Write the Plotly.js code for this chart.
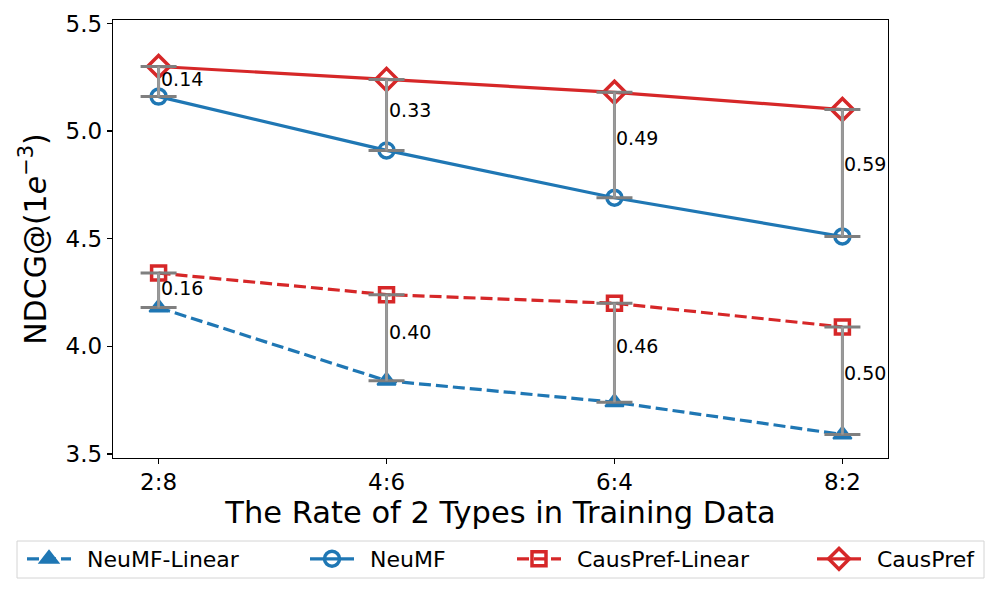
<!DOCTYPE html>
<html>
<head>
<meta charset="utf-8">
<script src="https://cdn.plot.ly/plotly-3.0.1.min.js"></script>
<style>html,body{margin:0;padding:0;background:#fff;}#chart{width:1000px;height:600px;}</style>
</head>
<body>
<div id="chart"></div>
<script>
// ---- data ----
var categories = ['2:8', '4:6', '6:4', '8:2'];
var neumfLinear = [4.18, 3.84, 3.74, 3.59];
var neumf = [5.16, 4.91, 4.69, 4.51];
var causprefLinear = [4.34, 4.24, 4.20, 4.09];
var causpref = [5.30, 5.24, 5.18, 5.10];
var yTicks = [3.5, 4.0, 4.5, 5.0, 5.5];
var seriesNames = ['NeuMF-Linear', 'NeuMF', 'CausPref-Linear', 'CausPref'];

var BLUE = '#1f77b4', RED = '#d62728';
var FONT = 'DejaVu Sans, sans-serif';
var PAD = '\u2002';

function diffs(hi, lo) { return hi.map(function (v, i) { return +(v - lo[i]).toFixed(2); }); }
var gapTop = diffs(causpref, neumf);
var gapBottom = diffs(causprefLinear, neumfLinear);
var zeros = categories.map(function () { return 0; });

var traces = [
  {x: categories, y: neumfLinear, name: PAD + seriesNames[0], mode: 'lines+markers', legend: 'legend',
   line: {color: BLUE, width: 3.2, dash: '12px,5px'},
   marker: {symbol: 'triangle-up', size: 16, color: BLUE, line: {color: BLUE, width: 2}}},
  {x: categories, y: neumf, name: PAD + seriesNames[1], mode: 'lines+markers', legend: 'legend2',
   line: {color: BLUE, width: 3.2},
   marker: {symbol: 'circle-open', size: 15, color: BLUE, line: {color: BLUE, width: 3.5}}},
  {x: categories, y: causprefLinear, name: PAD + seriesNames[2], mode: 'lines+markers', legend: 'legend3',
   line: {color: RED, width: 3.2, dash: '12px,5px'},
   marker: {symbol: 'square-open', size: 14, color: RED, line: {color: RED, width: 3.5}}},
  {x: categories, y: causpref, name: PAD + seriesNames[3], mode: 'lines+markers', legend: 'legend4',
   line: {color: RED, width: 3.2},
   marker: {symbol: 'diamond-open', size: 17, color: RED, line: {color: RED, width: 3.5}}}
];

function gapTrace(lo, gap, color, thick, w) {
  return {x: categories, y: lo, mode: 'markers', showlegend: false, hoverinfo: 'skip',
    marker: {size: 1, opacity: 0},
    error_y: {type: 'data', symmetric: false, array: gap, arrayminus: zeros,
      color: color, thickness: thick, width: w}};
}
traces.push(gapTrace(neumf, gapTop, '#7f7f7f', 3, 18));
traces.push(gapTrace(neumfLinear, gapBottom, '#7f7f7f', 3, 18));
traces.push(gapTrace(neumf, gapTop, '#9a9a9a', 2.5, 0));
traces.push(gapTrace(neumfLinear, gapBottom, '#9a9a9a', 2.5, 0));

var annotations = [];
function addLabels(lo, gap) {
  gap.forEach(function (g, i) {
    annotations.push({x: i, y: lo[i] + 0.57 * g, xref: 'x', yref: 'y', text: g.toFixed(2),
      showarrow: false, xanchor: 'left', yanchor: 'middle', xshift: 0, yshift: 0,
      font: {family: FONT, size: 19, color: '#000'}});
  });
}
addLabels(neumf, gapTop);
addLabels(neumfLinear, gapBottom);

var L = 113, R = 888, T = 20, B = 458;
function px2x(p) { return (p - L) / (R - L); }
function px2y(p) { return (B - p) / (B - T); }
function legendAt(px) {
  return {x: px2x(px), y: px2y(559), xanchor: 'left', yanchor: 'middle', orientation: 'h',
    bgcolor: 'rgba(0,0,0,0)', borderwidth: 0, itemwidth: 44,
    font: {family: FONT, size: 22, color: '#000'}};
}

var layout = {
  width: 1000, height: 600,
  margin: {l: L, r: 1000 - R, t: T, b: 600 - B, pad: 0},
  paper_bgcolor: '#fff', plot_bgcolor: '#fff',
  font: {family: FONT, color: '#000'},
  xaxis: {type: 'category', range: [-0.2, 3.2], showgrid: false, zeroline: false,
    showline: true, mirror: true, linecolor: '#000', linewidth: 1.2,
    ticks: 'outside', ticklen: 5, tickwidth: 1.2, tickcolor: '#000', ticklabelstandoff: -2,
    tickfont: {family: FONT, size: 23, color: '#000'},
    title: {text: 'The Rate of 2 Types in Training Data', font: {family: FONT, size: 30.5, color: '#000'}, standoff: 1}},
  yaxis: {range: [3.481, 5.516], tickvals: yTicks, ticktext: yTicks.map(function (v) { return v.toFixed(1); }),
    showgrid: false, zeroline: false,
    showline: true, mirror: true, linecolor: '#000', linewidth: 1.2,
    ticks: 'outside', ticklen: 5, tickwidth: 1.2, tickcolor: '#000',
    tickfont: {family: FONT, size: 23, color: '#000'},
    title: {text: 'NDCG@(1<i>e</i><sup>\u22123</sup>)', font: {family: FONT, size: 30, color: '#000'}, standoff: 10}},
  legend: legendAt(22),
  legend2: legendAt(305),
  legend3: legendAt(512),
  legend4: legendAt(812),
  shapes: [{type: 'rect', xref: 'paper', yref: 'paper', x0: px2x(17), x1: px2x(984), y0: px2y(578), y1: px2y(541),
    line: {color: '#d4d4d4', width: 1}, fillcolor: 'rgba(255,255,255,0)', layer: 'below'}],
  annotations: annotations,
  showlegend: true
};

Plotly.newPlot('chart', traces, layout, {displayModeBar: false, staticPlot: true});
</script>
</body>
</html>
